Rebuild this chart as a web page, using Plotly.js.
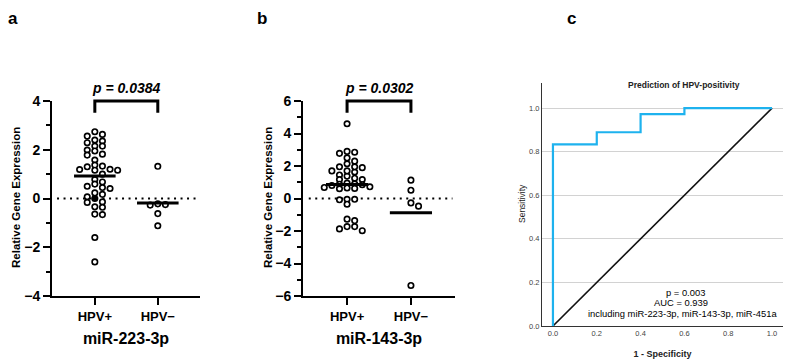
<!DOCTYPE html>
<html>
<head>
<meta charset="utf-8">
<script src="https://cdn.plot.ly/plotly-3.0.1.min.js"></script>
<style>
  html, body { margin: 0; padding: 0; background: #fff; }
  #chart { width: 791px; height: 363px; }
</style>
</head>
<body>
<div id="chart"></div>
<script>
// ---- data ----
const groups = ['HPV+', 'HPV\u2212'];

// miR-223-3p relative expression
const mir223Pos = [2.74, 2.63, 2.56, 2.4, 2.36, 2.29, 2.15, 2.15, 1.99, 1.95, 1.82, 1.78, 1.58,
  1.37, 1.33, 1.3, 1.2, 1.19, 1.16, 1.16, 1.0, 0.78, 0.68, 0.59, 0.5, 0.45, 0.41, 0.23,
  0.17, 0.07, -0.14, -0.16, -0.34, -0.36, -0.64, -0.66, -1.6, -2.6];
const mir223PosFilled = [0.0];
const mir223Neg = [1.32, -0.25, -0.22, -0.27, -0.62, -1.12];
const mir223Center = [0.92, -0.18];

// miR-143-3p relative expression
const mir143Pos = [4.6, 2.85, 2.9, 2.78, 2.5, 2.3, 2.14, 1.9, 1.63, 1.38, 1.25, 1.95, 1.95,
  1.7, 1.7, 1.45, 1.17, 1.17, 0.95, 0.9, 0.88, 0.85, 0.8, 0.72, 0.68, 0.65, 0.62, 0.6,
  -0.05, -0.08, -0.05, -0.35, -1.27, -1.36, -1.73, -1.98, -1.87, -1.73];
const mir143Neg = [1.13, 0.51, -0.27, -0.47, -5.35];
const mir143Center = [0.86, -0.88];

const pLabels = ['p = 0.0384', 'p = 0.0302'];
const geneLabels = ['miR-223-3p', 'miR-143-3p'];

// ROC curve of the combined model
const rocFpr = [0, 0, 0.2, 0.2, 0.4, 0.4, 0.6, 0.6, 1.0];
const rocTpr = [0, 0.833, 0.833, 0.889, 0.889, 0.972, 0.972, 1.0, 1.0];
const rocRef = [0, 1];
const rocText = ['p = 0.003', 'AUC = 0.939', 'including miR-223-3p, miR-143-3p, miR-451a'];

// ---- layout helpers ----
const W = 791, H = 363;
const px = v => v / W;
const py = v => 1 - v / H;
const FONT = 'Liberation Sans, Arial, sans-serif';

const domA = [px(52), px(200)];
const domB = [px(303), px(455)];
const domC = [px(542), px(783)];
const domY = [py(296), py(101)];
const domYC = [py(326), py(83)];
const rangeXA = [-0.68, 1.67];
const rangeXB = [-0.69, 1.69];

// place dots in side-by-side columns so that none collide (scatter dot plot layout)
function swarm(values, center, pxPerX, pxPerY, gapX, gapY, step) {
  const order = values.map((v, i) => i).sort((a, b) => values[b] - values[a]);
  const placed = [];
  const xs = new Array(values.length);
  for (const i of order) {
    const yPx = values[i] * pxPerY;
    for (let k = 0; k < 200; k++) {
      const off = k === 0 ? 0 : (k % 2 === 1 ? 1 : -1) * Math.ceil(k / 2) * step;
      const ok = placed.every(p => Math.abs(p[0] - off) >= gapX || Math.abs(p[1] - yPx) >= gapY);
      if (ok) { placed.push([off, yPx]); xs[i] = center + off / pxPerX; break; }
    }
  }
  return xs;
}

const scaleX = (dom, rng) => W * (dom[1] - dom[0]) / (rng[1] - rng[0]);
const scaleY = (dom, span) => H * (dom[1] - dom[0]) / span;

const traces = [];
const dotMarker = {symbol: 'circle', size: 5.4, color: '#ffffff', line: {color: '#000', width: 1.7}};

function dotPanel(posVals, filledVals, negVals, centers, xa, ya, dom, rng, span) {
  const sx = scaleX(dom, rng), sy = scaleY(domY, span);
  const allPos = posVals.concat(filledVals);
  const xsPos = swarm(allPos, 0, sx, sy, 7, 4.4, 7.6);
  const xsNeg = swarm(negVals, 1, sx, sy, 7, 4.4, 7.6);
  traces.push({
    type: 'scatter', mode: 'markers', xaxis: xa, yaxis: ya, hoverinfo: 'y',
    x: xsPos.slice(0, posVals.length).concat(xsNeg), y: posVals.concat(negVals),
    marker: dotMarker, cliponaxis: false
  });
  if (filledVals.length) {
    traces.push({
      type: 'scatter', mode: 'markers', xaxis: xa, yaxis: ya, hoverinfo: 'y',
      x: xsPos.slice(posVals.length), y: filledVals,
      marker: {symbol: 'circle', size: 5.4, color: '#000', line: {color: '#000', width: 1.7}}
    });
  }
  centers.forEach((c, g) => {
    traces.push({
      type: 'scatter', mode: 'lines', xaxis: xa, yaxis: ya, hoverinfo: 'skip',
      x: [g - 0.33, g + 0.33], y: [c, c], line: {color: '#000', width: 3}
    });
  });
}

dotPanel(mir223Pos, mir223PosFilled, mir223Neg, mir223Center, 'x', 'y', domA, rangeXA, 8);
dotPanel(mir143Pos, [], mir143Neg, mir143Center, 'x2', 'y2', domB, rangeXB, 12);

// ROC panel
traces.push({
  type: 'scatter', mode: 'lines', xaxis: 'x3', yaxis: 'y3', hoverinfo: 'skip',
  x: rocRef, y: rocRef, line: {color: '#111', width: 1.6}
});
traces.push({
  type: 'scatter', mode: 'lines', xaxis: 'x3', yaxis: 'y3',
  x: rocFpr, y: rocTpr, line: {color: '#1eb2ee', width: 2.2}
});

function dotYAxis(dom, rng, major, minor) {
  return {
    domain: dom, range: rng, tickvals: major, ticks: 'outside', ticklen: 7, tickwidth: 2,
    tickcolor: '#000', showline: true, linewidth: 2, linecolor: '#000', showgrid: false,
    zeroline: false, tickfont: {family: FONT, size: 14, color: '#000', weight: 'bold'},
    minor: {tickvals: minor, ticks: 'outside', ticklen: 4, tickwidth: 2, tickcolor: '#000'},
    fixedrange: true
  };
}
function dotXAxis(dom, rng, anchor, title) {
  return {
    domain: dom, range: rng, anchor: anchor, tickvals: [0, 1], ticktext: groups,
    ticks: 'outside', ticklen: 7, tickwidth: 2, tickcolor: '#000', showline: true,
    linewidth: 2, linecolor: '#000', showgrid: false, zeroline: false,
    tickfont: {family: FONT, size: 13, color: '#000', weight: 'bold'},
    title: {text: title, font: {family: FONT, size: 16, color: '#000', weight: 'bold'}, standoff: 10},
    fixedrange: true
  };
}

const tick01 = [0, 0.2, 0.4, 0.6, 0.8, 1.0];

const shapes = [];
// dotted zero line and significance brackets
[['x', 'y'], ['x2', 'y2']].forEach(([xa, ya], i) => {
  shapes.push({type: 'line', xref: xa, yref: ya, x0: -0.6, x1: i === 0 ? 1.67 : 1.65, y0: 0, y1: 0,
    line: {color: '#000', width: 2, dash: '2px,4.5px'}, layer: 'below'});
  shapes.push({type: 'path', xref: xa, yref: ya + ' domain',
    path: 'M0,0.94 L0,1 L1,1 L1,0.94', line: {color: '#000', width: 3}});
});

const annotations = [];
const ann = (text, x, y, size, opts) => annotations.push(Object.assign({
  text: text, x: px(x), y: py(y), xref: 'paper', yref: 'paper', showarrow: false,
  xanchor: 'center', yanchor: 'middle', font: {family: FONT, size: size, color: '#000'}
}, opts || {}));

ann('<b>a</b>', 13, 18, 17);
ann('<b>b</b>', 262, 18, 17);
ann('<b>c</b>', 571, 18, 17);
ann('<b><i>' + pLabels[0] + '</i></b>', 126, 88, 14);
ann('<b><i>' + pLabels[1] + '</i></b>', 379, 88, 14);
ann('<b>Relative Gene Expression</b>', 16, 198, 11.5, {textangle: -90});
ann('<b>Relative Gene Expression</b>', 268, 198, 11.5, {textangle: -90});
ann('Prediction of HPV-positivity', 684, 85, 8.5, {font: {family: FONT, size: 8.5, color: '#222', weight: 'bold'}});
ann('Sensitivity', 522, 204, 8.5, {textangle: -90, font: {family: FONT, size: 8.5, color: '#222'}});
ann(rocText[0], 685, 292, 9.4);
ann(rocText[1], 681, 302.5, 9.4);
ann(rocText[2], 682, 313, 9.4);

const layout = {
  width: W, height: H, margin: {l: 0, r: 0, t: 0, b: 0},
  paper_bgcolor: '#fff', plot_bgcolor: 'rgba(0,0,0,0)', showlegend: false,
  font: {family: FONT, color: '#000'},
  xaxis: dotXAxis(domA, rangeXA, 'y', geneLabels[0]),
  yaxis: Object.assign(dotYAxis(domY, [-4, 4], [-4, -2, 0, 2, 4], [-3, -1, 1, 3]), {anchor: 'x'}),
  xaxis2: dotXAxis(domB, rangeXB, 'y2', geneLabels[1]),
  yaxis2: Object.assign(dotYAxis(domY, [-6, 6], [-6, -4, -2, 0, 2, 4, 6], [-5, -3, -1, 1, 3, 5]), {anchor: 'x2'}),
  xaxis3: {
    domain: domC, range: [-0.05, 1.05], anchor: 'y3', tickvals: tick01, tickformat: '.1f',
    ticks: '', showline: true, linewidth: 1, linecolor: '#333', showgrid: false, zeroline: false,
    tickfont: {family: FONT, size: 7.5, color: '#444'},
    title: {text: '1 - Specificity', font: {family: FONT, size: 9, color: '#222', weight: 'bold'}, standoff: 13},
    fixedrange: true
  },
  yaxis3: {
    domain: domYC, range: [0, 1.115], anchor: 'x3', tickvals: tick01, tickformat: '.1f',
    ticks: '', showline: true, linewidth: 1, linecolor: '#333', showgrid: true,
    gridcolor: '#d2d2d2', gridwidth: 1, zeroline: false,
    tickfont: {family: FONT, size: 7.5, color: '#444'}, fixedrange: true
  },
  shapes: shapes,
  annotations: annotations
};

Plotly.newPlot('chart', traces, layout, {displayModeBar: false, staticPlot: true});
</script>
</body>
</html>
